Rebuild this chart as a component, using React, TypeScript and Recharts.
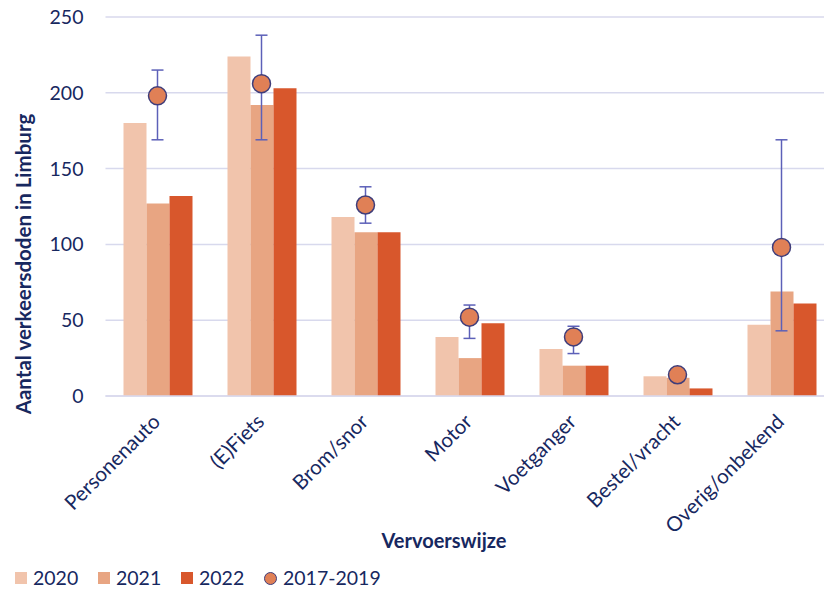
import { ComposedChart, Bar, Line, ErrorBar, XAxis, YAxis, CartesianGrid, Label } from 'recharts';

const categories = ['Personenauto', '(E)Fiets', 'Brom/snor', 'Motor', 'Voetganger', 'Bestel/vracht', 'Overig/onbekend'];
const deaths2020 = [180, 224, 118, 39, 31, 13, 47];
const deaths2021 = [127, 192, 108, 25, 20, 12, 69];
const deaths2022 = [132, 203, 108, 48, 20, 5, 61];
const avg2017_2019 = [198, 206, 126, 52, 39, 14, 98];
const avgLow = [169, 169, 114, 38, 28, 13, 43];
const avgHigh = [215, 238, 138, 60, 46, 15, 169];
const yTicks = [0, 50, 100, 150, 200, 250];

const C2020 = '#F1C4AC';
const C2021 = '#E8A582';
const C2022 = '#D8572C';
const DOT = '#E08056';
const DOT_EDGE = '#3F3D7A';
const ERR = '#5C60B8';
const NAVY = '#17285F';
const GRID = '#D8D9ED';
const FONT = 'Lato, "Open Sans", sans-serif';

const data = categories.map((name, i) => ({
    name,
    y2020: deaths2020[i],
    y2021: deaths2021[i],
    y2022: deaths2022[i],
    avg: avg2017_2019[i],
    err: [avg2017_2019[i] - avgLow[i], avgHigh[i] - avg2017_2019[i]],
}));

function CategoryTick({ x, y, payload }: any) {
    return (
        <g transform={`translate(${x + 4},${y + 19})`}>
            <text textAnchor="end" transform="rotate(-45)" fill={NAVY} fontSize={20.5} fontFamily={FONT}>
                {payload.value}
            </text>
        </g>
    );
}

// legend sits under the chart, drawn as plain html
function LegendBox() {
    const items = [
        { label: '2020', color: C2020, round: false },
        { label: '2021', color: C2021, round: false },
        { label: '2022', color: C2022, round: false },
        { label: '2017-2019', color: DOT, round: true },
    ];
    return (
        <div
            style={{
                position: 'absolute',
                left: 15,
                top: 566,
                display: 'flex',
                alignItems: 'center',
                fontFamily: FONT,
                fontSize: 19.5,
                color: NAVY,
                lineHeight: '24px',
            }}
        >
            {items.map((it) => (
                <div key={it.label} style={{ display: 'flex', alignItems: 'center', width: it.round ? 140 : 83 }}>
                    <span
                        style={{
                            display: 'inline-block',
                            width: it.round ? 11 : 12,
                            height: it.round ? 11 : 12,
                            background: it.color,
                            borderRadius: it.round ? '50%' : 0,
                            border: it.round ? `1px solid ${DOT_EDGE}` : 'none',
                            marginRight: 6,
                        }}
                    />
                    <span>{it.label}</span>
                </div>
            ))}
        </div>
    );
}

export default function App() {
    return (
        <div style={{ position: 'absolute', left: 0, top: 0, width: 824, height: 592, overflow: 'hidden', background: '#fff' }}>
            <ComposedChart
                width={850}
                height={592}
                data={data}
                margin={{ top: 17, right: 16.5, left: 25.5, bottom: 0 }}
                barGap={0}
                barCategoryGap={17.5}
            >
                <CartesianGrid vertical={false} stroke={GRID} strokeWidth={1.5} />
                <XAxis
                    dataKey="name"
                    height={196}
                    axisLine={{ stroke: GRID, strokeWidth: 1.5 }}
                    tickLine={false}
                    interval={0}
                    tick={<CategoryTick />}
                >
                    <Label
                        content={() => (
                            <text x={444} y={548} textAnchor="middle" fill={NAVY} fontSize={20} fontWeight={700} fontFamily={FONT}>
                                Vervoerswijze
                            </text>
                        )}
                    />
                </XAxis>
                <YAxis
                    width={80}
                    domain={[0, 250]}
                    ticks={yTicks}
                    axisLine={false}
                    tickLine={false}
                    tickSize={6}
                    tickMargin={16}
                    tick={{ fill: NAVY, fontSize: 19.5, fontFamily: FONT }}
                >
                    <Label
                        content={() => (
                            <text
                                x={31}
                                y={264}
                                transform="rotate(-90 31 264)"
                                textAnchor="middle"
                                fill={NAVY}
                                fontSize={20.5}
                                fontWeight={700}
                                fontFamily={FONT}
                            >
                                Aantal verkeersdoden in Limburg
                            </text>
                        )}
                    />
                </YAxis>
                <Bar dataKey="y2020" fill={C2020} barSize={23} isAnimationActive={false} />
                <Bar dataKey="y2021" fill={C2021} barSize={23} isAnimationActive={false} />
                <Bar dataKey="y2022" fill={C2022} barSize={23} isAnimationActive={false} />
                <Line
                    dataKey="avg"
                    stroke="none"
                    dot={{ r: 9, fill: DOT, stroke: DOT_EDGE, strokeWidth: 1.5 }}
                    activeDot={false}
                    isAnimationActive={false}
                >
                    <ErrorBar dataKey="err" stroke={ERR} strokeWidth={1.5} width={6} direction="y" />
                </Line>
            </ComposedChart>
            <LegendBox />
        </div>
    );
}
